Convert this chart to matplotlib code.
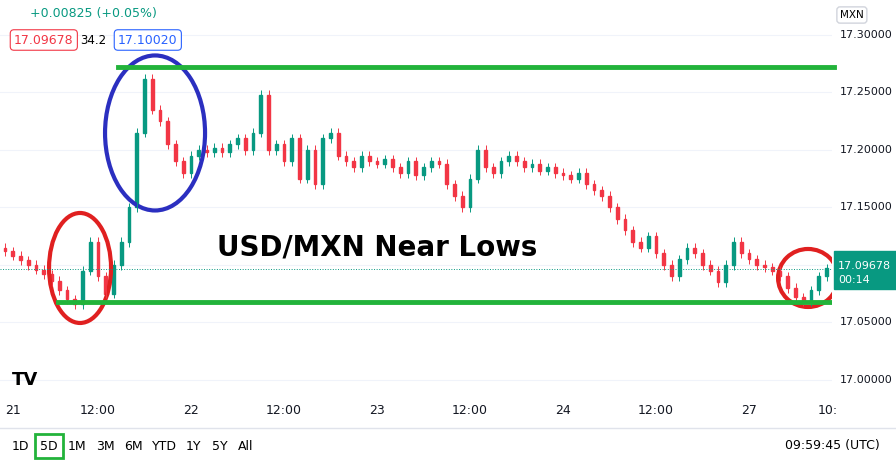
import matplotlib.pyplot as plt
from matplotlib.patches import Ellipse, Rectangle

# hourly closes (hour 0 = 21st 00:00)
closes = [17.112, 17.108, 17.104, 17.100, 17.096, 17.092, 17.086,
          17.078, 17.070, 17.066, 17.095,
          17.120, 17.090, 17.075,
          17.100, 17.120, 17.150, 17.215,
          17.262, 17.235, 17.225, 17.205, 17.190,
          17.180, 17.195, 17.200, 17.198,
          17.202, 17.198, 17.205, 17.210, 17.200, 17.215, 17.248,
          17.200, 17.205, 17.190, 17.210,
          17.175, 17.200, 17.170, 17.210, 17.215,
          17.195, 17.190, 17.185, 17.195, 17.190, 17.188, 17.192,
          17.185, 17.180, 17.190, 17.178, 17.185, 17.190, 17.188, 17.170,
          17.160, 17.150, 17.175, 17.200, 17.185, 17.180,
          17.190, 17.195, 17.190, 17.185, 17.188, 17.182, 17.185, 17.180,
          17.178, 17.175, 17.180, 17.170, 17.165, 17.160, 17.150, 17.140, 17.130,
          17.120, 17.115, 17.125, 17.110, 17.100, 17.090, 17.105, 17.115,
          17.110, 17.100, 17.095, 17.085, 17.100, 17.120, 17.110,
          17.105, 17.100, 17.098, 17.095, 17.090, 17.080, 17.072, 17.068, 17.078, 17.090, 17.097]
first_open = 17.115
resistance = 17.272
support = 17.0678
last_price = 17.09678
price_ticks = [17.00, 17.05, 17.10, 17.15, 17.20, 17.25, 17.30]
time_ticks = [0, 12, 24, 36, 48, 60, 72, 84, 96, 106.2]
time_labels = ['21', '12:00', '22', '12:00', '23', '12:00', '24', '12:00', '27', '10:']

UP, DN = '#089981', '#f23645'
fig = plt.figure(figsize=(8.96, 4.62), dpi=100)
ax = fig.add_axes([0, 62 / 462, 832 / 896, 400 / 462])
ax.set_xlim(-0.65, 106.7)
ax.set_ylim(16.9826, 17.3304)
for s in ax.spines.values():
    s.set_visible(False)
ax.set_xticks([]); ax.set_yticks([])
for p in price_ticks:
    ax.axhline(p, color='#f0f3fa', lw=0.8, zorder=0)

opens = [first_open] + closes[:-1]
for i, (o, c) in enumerate(zip(opens, closes)):
    col = UP if c >= o else DN
    ax.vlines(i, min(o, c) - 0.004, max(o, c) + 0.004, color=col, lw=0.7)
    ax.add_patch(Rectangle((i - 0.18, min(o, c)), 0.36, max(abs(c - o), 0.0008), color=col))

ax.axhline(last_price, color='#089981', lw=0.7, ls=':')
ax.plot([14.6, 107], [resistance] * 2, color='#22b33a', lw=3.5, clip_on=False)
ax.plot([6.8, 106.7], [support] * 2, color='#22b33a', lw=3.5)

k = 0.05 / 57.5
for cx, cy, w, h, col in [(80, 268, 62, 110, '#e02020'), (155, 133, 100, 155, '#2b2fc0'),
                          (808, 278, 60, 58, '#e02020')]:
    ax.add_patch(Ellipse(((cx - 5) / 7.75, 17.30 - (cy - 35) * k), w / 7.75, h * k,
                         fill=False, ec=col, lw=3))

ax.text(48, 17.30 - (248 - 35) * k, 'USD/MXN Near Lows', fontsize=20, fontweight='bold',
        ha='center', va='center')

# right price axis
for p in price_ticks[:2] + price_ticks[3:]:
    fig.text(840 / 896, ax.transData.transform((0, p))[1] / 462, f'{p:.5f}',
             fontsize=8, va='center', color='#131722')
fig.patches.append(Rectangle((834 / 896, 1 - 289 / 462), 62 / 896, 38 / 462,
                             transform=fig.transFigure, color='#089981'))
fig.text(838 / 896, 1 - 266 / 462, '17.09678', color='white', fontsize=8, va='center')
fig.text(838 / 896, 1 - 280 / 462, '00:14', color='white', fontsize=8, va='center')
fig.text(840 / 896, 1 - 15 / 462, 'MXN', fontsize=7.5, va='center',
         bbox=dict(fc='white', ec='#d1d4dc', boxstyle='round,pad=0.3'))

# time axis
for t, lab in zip(time_ticks, time_labels):
    x = ax.transData.transform((t, 0))[0] / 896
    fig.text(x, 1 - 410 / 462, lab, fontsize=9, ha='center' if lab != '21' else 'left',
             va='center', color='#131722')
fig.add_artist(plt.Line2D([0, 1], [1 - 428 / 462] * 2, color='#e0e3eb', lw=1))
bx = [12, 40, 68, 96, 124, 152, 186, 212, 238]
for x, lab in zip(bx, ['1D', '5D', '1M', '3M', '6M', 'YTD', '1Y', '5Y', 'All']):
    fig.text(x / 896, 1 - 446 / 462, lab, fontsize=9, va='center',
             bbox=dict(fc='none', ec='#22b33a', lw=2) if lab == '5D' else None)
fig.text(880 / 896, 1 - 446 / 462, '09:59:45 (UTC)', fontsize=9, ha='right', va='center')

# header
fig.text(30 / 896, 1 - 14 / 462, '+0.00825 (+0.05%)', fontsize=9, color='#089981', va='center')
fig.text(14 / 896, 1 - 40 / 462, '17.09678', fontsize=9, color=DN, va='center',
         bbox=dict(fc='white', ec=DN, lw=0.8, boxstyle='round,pad=0.3'))
fig.text(80 / 896, 1 - 40 / 462, '34.2', fontsize=8.5, va='center')
fig.text(118 / 896, 1 - 40 / 462, '17.10020', fontsize=9, color='#2962ff', va='center',
         bbox=dict(fc='white', ec='#2962ff', lw=0.8, boxstyle='round,pad=0.3'))
fig.text(12 / 896, 1 - 380 / 462, 'TV', fontsize=13, fontweight='bold', va='center')

fig.savefig('out.png', dpi=100)
